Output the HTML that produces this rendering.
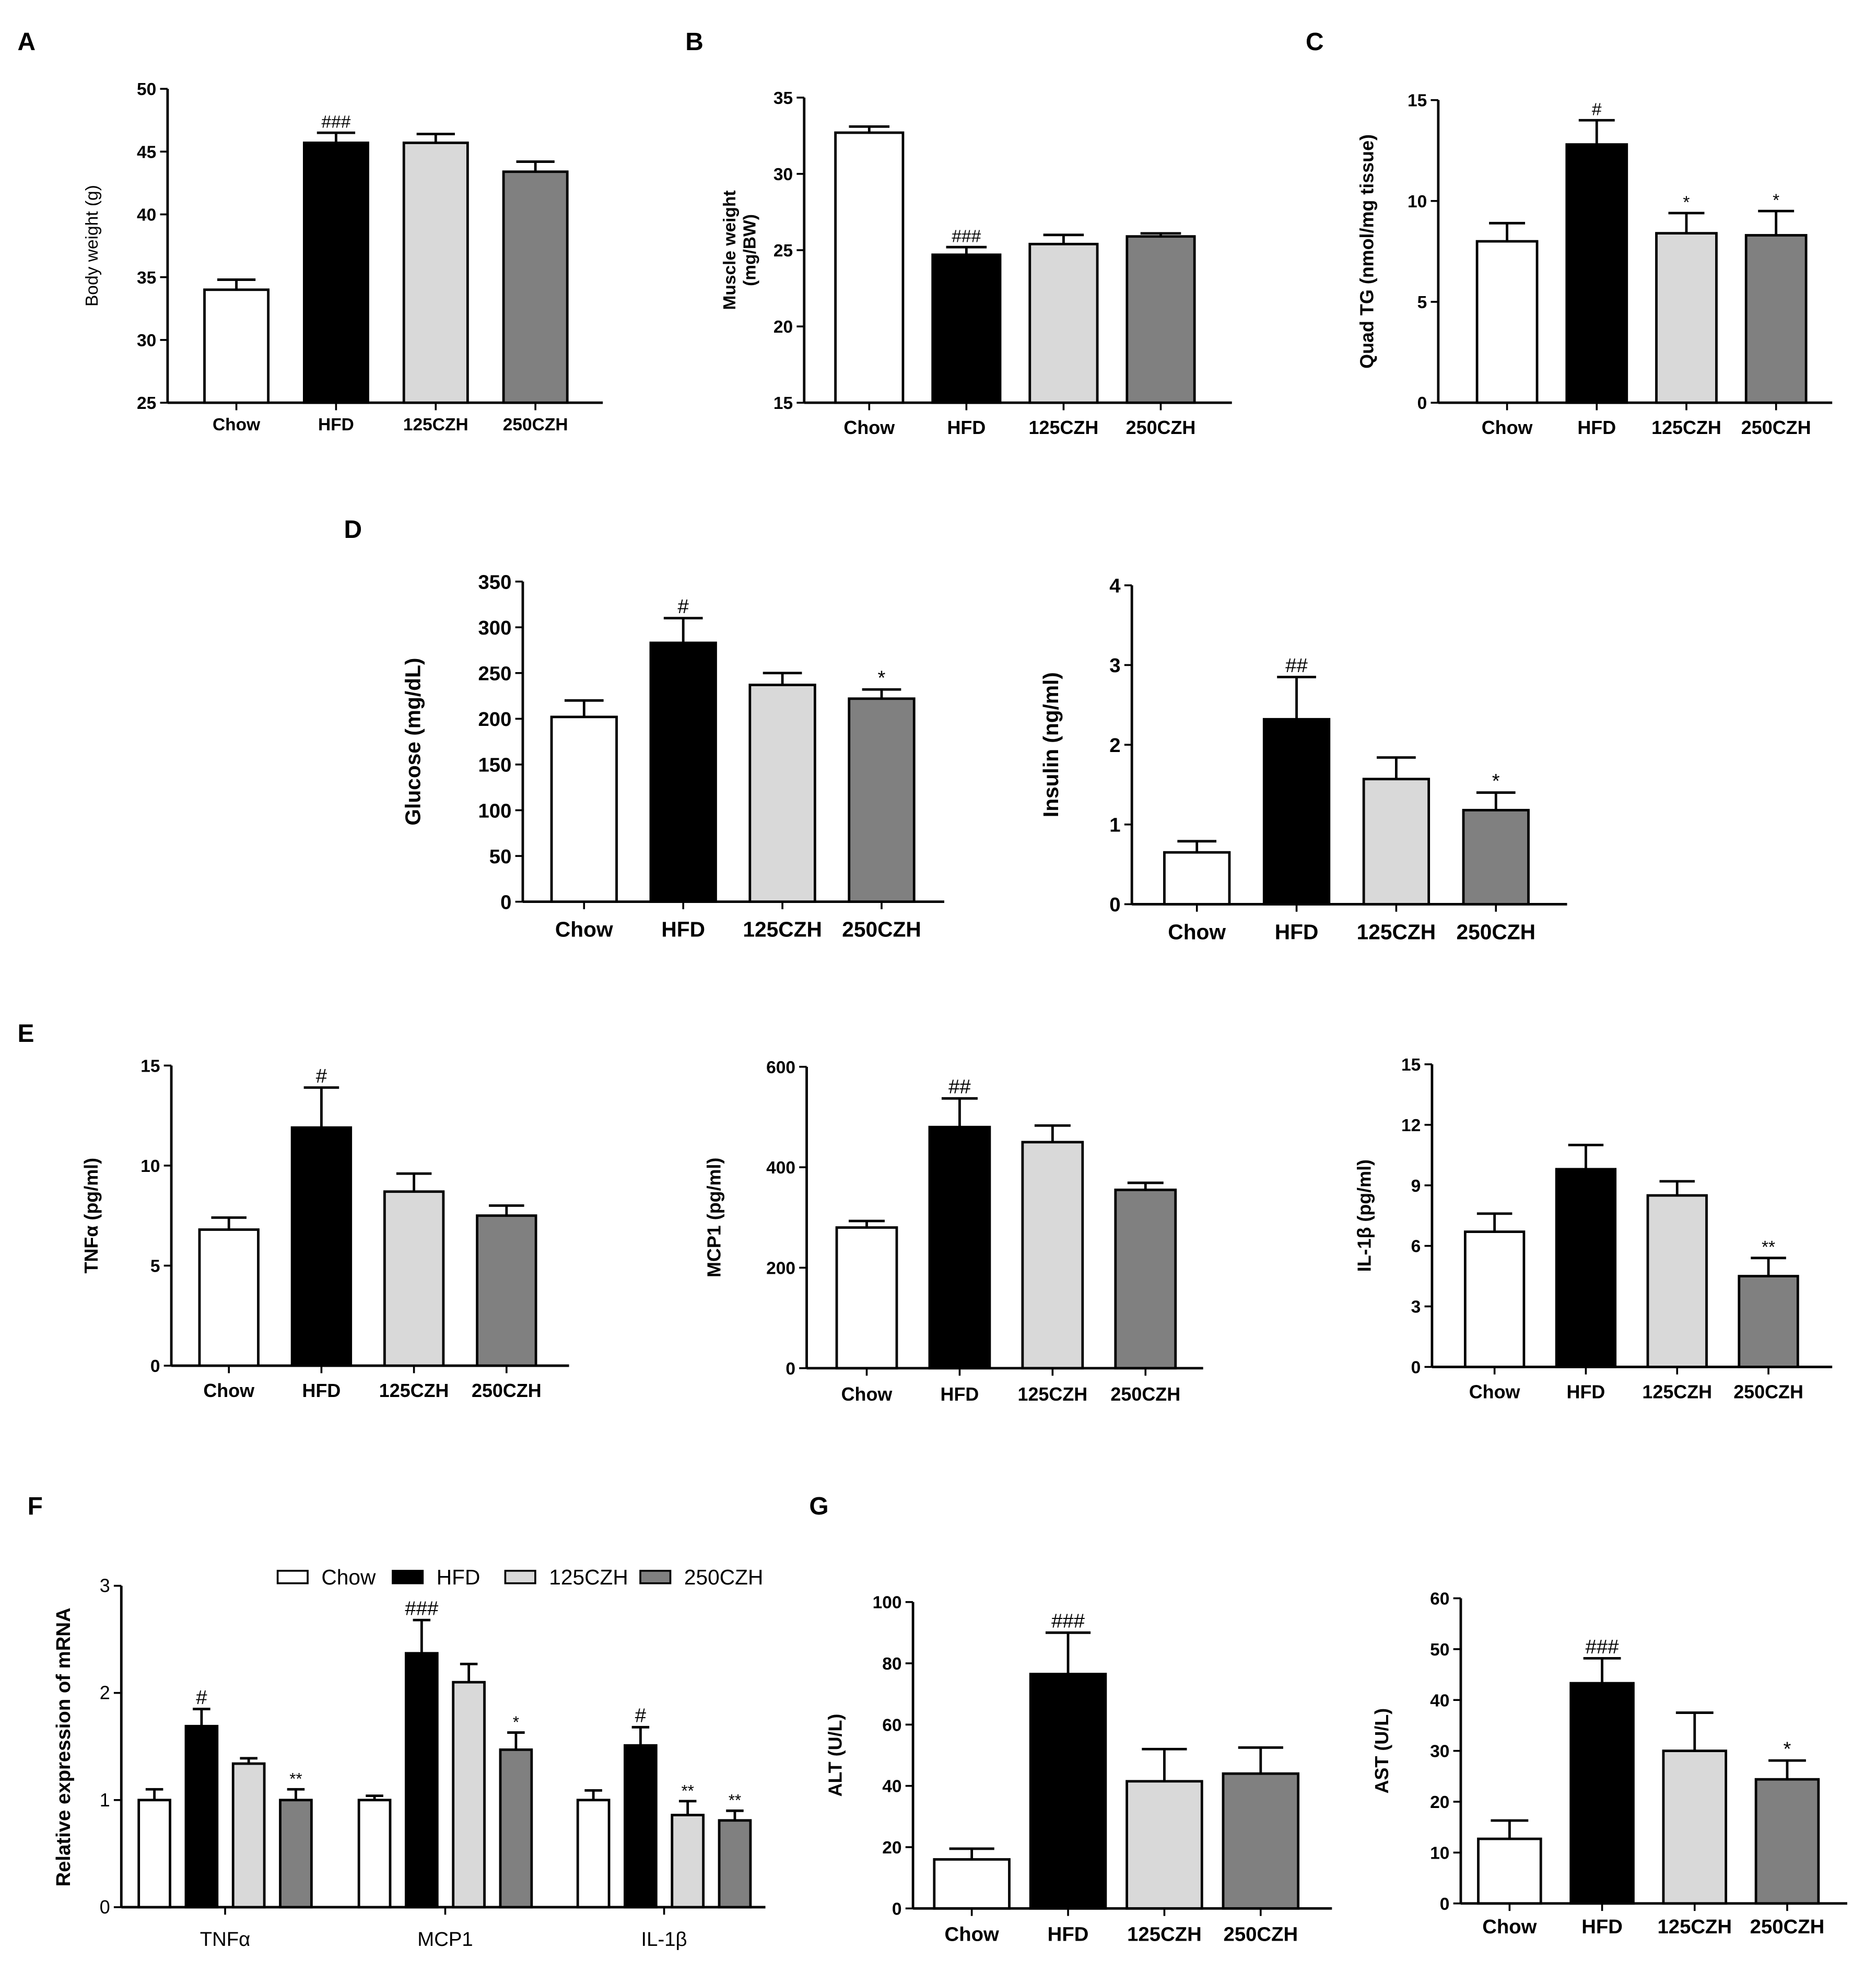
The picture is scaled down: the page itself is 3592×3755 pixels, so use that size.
<!DOCTYPE html>
<html><head><meta charset="utf-8">
<style>
html,body{margin:0;padding:0;background:#fff;}
svg{display:block;}
text{font-family:"Liberation Sans",Arial,sans-serif;fill:#000;}
</style></head>
<body>
<svg id="fig" width="3592" height="3755" viewBox="0 0 1500 1568" xmlns="http://www.w3.org/2000/svg">
<rect width="1500" height="1568" fill="#fff"/>
<g font-weight="bold" font-size="20">
<text x="14" y="40">A</text>
<text x="548" y="40">B</text>
<text x="1044" y="40">C</text>
<text x="275" y="430">D</text>
<text x="14" y="833">E</text>
<text x="22" y="1211">F</text>
<text x="647" y="1211">G</text>
</g>
</svg>
<script>
const groups = ["Chow","HFD","125CZH","250CZH"];
const fills = ["#ffffff","#000000","#d9d9d9","#808080"];

const aVals = [34.0,45.7,45.7,43.4]; const aErr = [34.8,46.5,46.4,44.2]; const aTicks = [25,30,35,40,45,50]; const aAnn = ["","###","",""];
const bVals = [32.7,24.7,25.4,25.9]; const bErr = [33.1,25.2,26.0,26.1]; const bTicks = [15,20,25,30,35]; const bAnn = ["","###","",""];
const cVals = [8.0,12.8,8.4,8.3]; const cErr = [8.9,14.0,9.4,9.5]; const cTicks = [0,5,10,15]; const cAnn = ["","#","*","*"];
const dgVals = [202,283,237,222]; const dgErr = [220,310,250,232]; const dgTicks = [0,50,100,150,200,250,300,350]; const dgAnn = ["","#","","*"];
const diVals = [0.65,2.32,1.57,1.18]; const diErr = [0.79,2.85,1.84,1.40]; const diTicks = [0,1,2,3,4]; const diAnn = ["","##","","*"];
const etVals = [6.8,11.9,8.7,7.5]; const etErr = [7.4,13.9,9.6,8.0]; const etTicks = [0,5,10,15]; const etAnn = ["","#","",""];
const emVals = [280,480,450,355]; const emErr = [293,537,483,369]; const emTicks = [0,200,400,600]; const emAnn = ["","##","",""];
const eiVals = [6.7,9.8,8.5,4.5]; const eiErr = [7.6,11.0,9.2,5.4]; const eiTicks = [0,3,6,9,12,15]; const eiAnn = ["","","","**"];
const gaVals = [16,76.5,41.5,44]; const gaErr = [19.5,90,52,52.5]; const gaTicks = [0,20,40,60,80,100]; const gaAnn = ["","###","",""];
const gsVals = [12.7,43.3,30,24.4]; const gsErr = [16.3,48.2,37.5,28.1]; const gsTicks = [0,10,20,30,40,50,60]; const gsAnn = ["","###","","*"];

const fGenes = ["TNFα","MCP1","IL-1β"];
const fChow = [1.0,1.0,1.0]; const fChowErr = [1.1,1.04,1.09];
const fHFD = [1.69,2.37,1.51]; const fHFDErr = [1.85,2.68,1.68];
const f125 = [1.34,2.1,0.86]; const f125Err = [1.39,2.27,0.99];
const f250 = [1.0,1.47,0.81]; const f250Err = [1.1,1.63,0.9];
const fAnn = [["","#","","**"],["","###","","*"],["","#","**","**"]];
const fTicks = [0,1,2,3];

const NS="http://www.w3.org/2000/svg";
const svg=document.getElementById('fig');
function mk(tag,attrs,parent){const e=document.createElementNS(NS,tag);for(const k in attrs)e.setAttribute(k,attrs[k]);(parent||svg).appendChild(e);return e;}

function chart(o){
  const g=mk('g',{});
  
  
  const ymin=o.ticks[0], ymax=o.ticks[o.ticks.length-1];
  const y=v=>o.y0-(v-ymin)/(ymax-ymin)*(o.y0-o.y1);
  const x=i=>o.c0+i*o.step;
  mk('line',{x1:o.ax,y1:o.y1,x2:o.ax,y2:o.y0,stroke:'#000','stroke-width':2},g);
  mk('line',{x1:o.ax,y1:o.y0,x2:o.xe,y2:o.y0,stroke:'#000','stroke-width':2},g);
  o.ticks.forEach(t=>{
    mk('line',{x1:o.ax-6,y1:y(t),x2:o.ax,y2:y(t),stroke:'#000','stroke-width':1.5},g);
    const tx=mk('text',{x:o.ax-9,y:y(t)+o.fs*0.36,'text-anchor':'end','font-size':o.fs,'font-weight':'bold'},g);
    tx.textContent=t;
  });
  groups.forEach((name,i)=>{
    const cx=x(i), top=y(o.vals[i]), et=y(o.err[i]);
    mk('line',{x1:cx,y1:top,x2:cx,y2:et,stroke:'#000','stroke-width':2},g);
    mk('line',{x1:cx-o.w*0.3,y1:et,x2:cx+o.w*0.3,y2:et,stroke:'#000','stroke-width':2},g);
    const r=mk('rect',{x:cx-o.w/2,y:top,width:o.w,height:o.y0-top,fill:fills[i],stroke:'#000','stroke-width':2},g);
    
    
    mk('line',{x1:cx,y1:o.y0,x2:cx,y2:o.y0+6,stroke:'#000','stroke-width':1.5},g);
    const lb=mk('text',{x:cx,y:o.ly,'text-anchor':'middle','font-size':o.lfs,'font-weight':'bold'},g);
    lb.textContent=name;
    if(o.ann[i]){const a=mk('text',{x:cx,y:et-4,'text-anchor':'middle','font-size':o.afs||14},g);a.textContent=o.ann[i];}
  });
  const tl=mk('text',{x:0,y:0,'text-anchor':'middle','font-size':o.tfs,'font-weight':o.tw||'bold',transform:`translate(${o.tx},${(o.y0+o.y1)/2}) rotate(-90)`},g);
  
  
  if(Array.isArray(o.title)){o.title.forEach((s,k)=>{const ts=mk('tspan',{x:0,dy:k?o.tfs*1.15:0},tl);ts.textContent=s;});}
  else tl.textContent=o.title;
}

chart({name:'chart-body-weight',vals:aVals,err:aErr,ticks:aTicks,ann:aAnn,ax:134,y0:322,y1:71,xe:482,c0:189,step:79.7,w:51,fs:14,lfs:14,ly:344,title:'Body weight (g)',tx:78,tfs:14,tw:'normal'});
chart({name:'chart-muscle-weight',vals:bVals,err:bErr,ticks:bTicks,ann:bAnn,ax:643,y0:322,y1:78,xe:985,c0:695,step:77.7,w:54,fs:14,lfs:15,ly:347,title:['Muscle weight','(mg/BW)'],tx:588,tfs:14});
chart({name:'chart-quad-tg',vals:cVals,err:cErr,ticks:cTicks,ann:cAnn,ax:1150,y0:322,y1:80,xe:1465,c0:1205,step:71.7,w:48,fs:14,lfs:15,ly:347,title:'Quad TG (nmol/mg tissue)',tx:1098,tfs:15});
chart({name:'chart-glucose',vals:dgVals,err:dgErr,ticks:dgTicks,ann:dgAnn,ax:418,y0:721,y1:465,xe:755,c0:467,step:79.3,w:52,fs:16,lfs:17,ly:749,title:'Glucose (mg/dL)',tx:336,tfs:17,afs:16});
chart({name:'chart-insulin',vals:diVals,err:diErr,ticks:diTicks,ann:diAnn,ax:905,y0:723,y1:468,xe:1253,c0:957,step:79.7,w:52,fs:16,lfs:17,ly:751,title:'Insulin (ng/ml)',tx:846,tfs:17,afs:16});
chart({name:'chart-tnfa-serum',vals:etVals,err:etErr,ticks:etTicks,ann:etAnn,ax:137,y0:1092,y1:852,xe:455,c0:183,step:74,w:47,fs:14,lfs:15,ly:1117,title:'TNFα (pg/ml)',tx:78,tfs:15,afs:16});
chart({name:'chart-mcp1-serum',vals:emVals,err:emErr,ticks:emTicks,ann:emAnn,ax:645,y0:1094,y1:853,xe:962,c0:693,step:74.3,w:48,fs:14,lfs:15,ly:1120,title:'MCP1 (pg/ml)',tx:576,tfs:15,afs:16});
chart({name:'chart-il1b-serum',vals:eiVals,err:eiErr,ticks:eiTicks,ann:eiAnn,ax:1145,y0:1093,y1:851,xe:1465,c0:1195,step:73,w:47,fs:14,lfs:15,ly:1118,title:'IL-1β (pg/ml)',tx:1096,tfs:15});
chart({name:'chart-alt',vals:gaVals,err:gaErr,ticks:gaTicks,ann:gaAnn,ax:730,y0:1526,y1:1281,xe:1065,c0:777,step:77,w:60,fs:14,lfs:16,ly:1552,title:'ALT (U/L)',tx:673,tfs:15,afs:16});
chart({name:'chart-ast',vals:gsVals,err:gsErr,ticks:gsTicks,ann:gsAnn,ax:1168,y0:1522,y1:1278,xe:1477,c0:1207,step:74,w:50,fs:14,lfs:16,ly:1546,title:'AST (U/L)',tx:1110,tfs:15,afs:16});

// Panel F grouped chart
(function(){
  const g=mk('g',{});
  
  
  const ax=97,y0=1525,y1=1268,xe=612;
  const ymax=fTicks[fTicks.length-1];
  const y=v=>y0-v/ymax*(y0-y1);
  const gc=[180,356,531], bs=37.7, w=25;
  const series=[[fChow,fChowErr],[fHFD,fHFDErr],[f125,f125Err],[f250,f250Err]];
  mk('line',{x1:ax,y1:y1,x2:ax,y2:y0,stroke:'#000','stroke-width':2},g);
  mk('line',{x1:ax,y1:y0,x2:xe,y2:y0,stroke:'#000','stroke-width':2},g);
  fTicks.forEach(t=>{
    mk('line',{x1:ax-6,y1:y(t),x2:ax,y2:y(t),stroke:'#000','stroke-width':1.5},g);
    const tx=mk('text',{x:ax-9,y:y(t)+5,'text-anchor':'end','font-size':15},g);tx.textContent=t;
  });
  fGenes.forEach((gn,gi)=>{
    series.forEach((s,si)=>{
      const cx=gc[gi]+(si-1.5)*bs, top=y(s[0][gi]), et=y(s[1][gi]);
      mk('line',{x1:cx,y1:top,x2:cx,y2:et,stroke:'#000','stroke-width':2},g);
      mk('line',{x1:cx-7,y1:et,x2:cx+7,y2:et,stroke:'#000','stroke-width':2},g);
      const r=mk('rect',{x:cx-w/2,y:top,width:w,height:y0-top,fill:fills[si],stroke:'#000','stroke-width':2},g);
      
      
      const a=fAnn[gi][si];
      if(a){const t=mk('text',{x:cx,y:et-4,'text-anchor':'middle','font-size':a.startsWith('#')?16:13},g);t.textContent=a;}
    });
    mk('line',{x1:gc[gi],y1:y0,x2:gc[gi],y2:y0+6,stroke:'#000','stroke-width':1.5},g);
    const lb=mk('text',{x:gc[gi],y:1556,'text-anchor':'middle','font-size':16},g);lb.textContent=gn;
  });
  const tl=mk('text',{x:0,y:0,'text-anchor':'middle','font-size':16,'font-weight':'bold',transform:`translate(56,1397) rotate(-90)`},g);
  tl.textContent='Relative expression of mRNA';
  
  
  const lx=[222,314,404,512];
  groups.forEach((n,i)=>{
    const r=mk('rect',{x:lx[i],y:1256,width:24,height:10,fill:fills[i],stroke:'#000','stroke-width':1.5},g);
    
    
    const t=mk('text',{x:lx[i]+35,y:1267,'font-size':17},g);t.textContent=n;
    
    
  });
})();
</script>
</body></html>
